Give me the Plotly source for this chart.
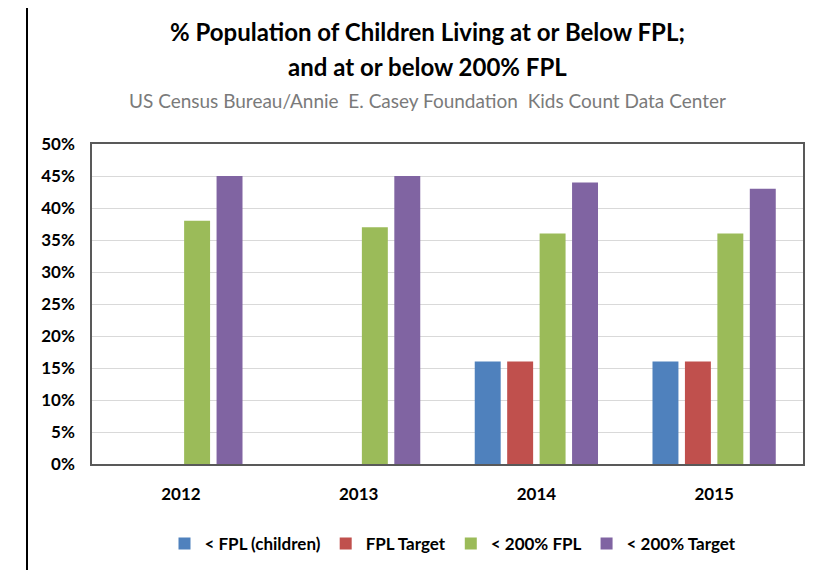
import plotly.graph_objects as go

years = ["2012", "2013", "2014", "2015"]
series_names = ["< FPL (children)", "FPL Target", "< 200% FPL", "< 200% Target"]
fpl_children = [None, None, 16, 16]
fpl_target = [None, None, 16, 16]
fpl200 = [38, 37, 36, 36]
target200 = [45, 45, 44, 43]
colors = ["#4F81BD", "#C0504D", "#9BBB59", "#8064A2"]
y_ticks = [0, 5, 10, 15, 20, 25, 30, 35, 40, 45, 50]
y_tick_labels = [f"{v}%" for v in y_ticks]

FONT = "Lato, Roboto, sans-serif"

fig = go.Figure()
for name, vals, col in zip(series_names, [fpl_children, fpl_target, fpl200, target200], colors):
    fig.add_trace(go.Bar(x=years, y=vals, name=name, marker=dict(color=col, line=dict(width=0))))

# page is rendered with an 8px body margin: work in screen pixels, shift by OFF
OFF = 8
W, H = 831, 570
L, R, T, B = 92 - OFF, W - (803 - OFF), 144 - OFF, H - (464 - OFF)
pw, ph = W - L - R, H - T - B

def px_x(x):
    return (x - OFF - L) / pw

def px_y(y):
    return (H - B - (y - OFF)) / ph

fig.update_layout(
    width=W, height=H,
    margin=dict(l=L, r=R, t=T, b=B, autoexpand=False),
    paper_bgcolor="white", plot_bgcolor="white",
    barmode="group", bargap=0.27, bargroupgap=0.2,
    font=dict(family=FONT, size=17, color="#000000"),
    showlegend=True,
    legend=dict(orientation="h", x=px_x(453), xanchor="center", y=px_y(544), yanchor="middle",
                font=dict(family=FONT, size=17, color="#000000", weight="bold"),
                itemwidth=30, traceorder="normal"),
)
fig.update_xaxes(showline=True, linecolor="#595959", linewidth=1.5, mirror=True,
                 showgrid=False, ticks="", ticklabelstandoff=14,
                 tickfont=dict(family=FONT, size=17, weight="bold"))
fig.update_yaxes(range=[0, 50], tickvals=y_ticks, ticktext=y_tick_labels,
                 showline=True, linecolor="#595959", linewidth=1.5, mirror=True,
                 showgrid=True, gridcolor="#D9D9D9", gridwidth=1, zeroline=False,
                 ticks="", ticklabelstandoff=12,
                 tickfont=dict(family=FONT, size=17, weight="bold"))

fig.add_annotation(text="<b>% Population of Children Living at or Below FPL;</b>", x=px_x(427), y=px_y(31),
                   xref="paper", yref="paper", showarrow=False, xanchor="center", yanchor="middle",
                   font=dict(family=FONT, size=24, color="#000000"))
fig.add_annotation(text="<b>and at or below 200% FPL</b>", x=px_x(427), y=px_y(66),
                   xref="paper", yref="paper", showarrow=False, xanchor="center", yanchor="middle",
                   font=dict(family=FONT, size=24, color="#000000"))
fig.add_annotation(text="US Census Bureau/Annie\u00a0 E. Casey Foundation\u00a0 Kids Count Data Center",
                   x=px_x(427), y=px_y(100),
                   xref="paper", yref="paper", showarrow=False, xanchor="center", yanchor="middle",
                   font=dict(family=FONT, size=19, color="#7A7A7A"))

# chart frame lines
for xp, col, wd in [(27, "#000000", 2), (824, "#000000", 2)]:
    fig.add_shape(type="line", xref="paper", yref="paper", x0=px_x(xp), x1=px_x(xp),
                  y0=px_y(H + 20), y1=px_y(-20), line=dict(color=col, width=wd))

fig.write_html("out.html")
